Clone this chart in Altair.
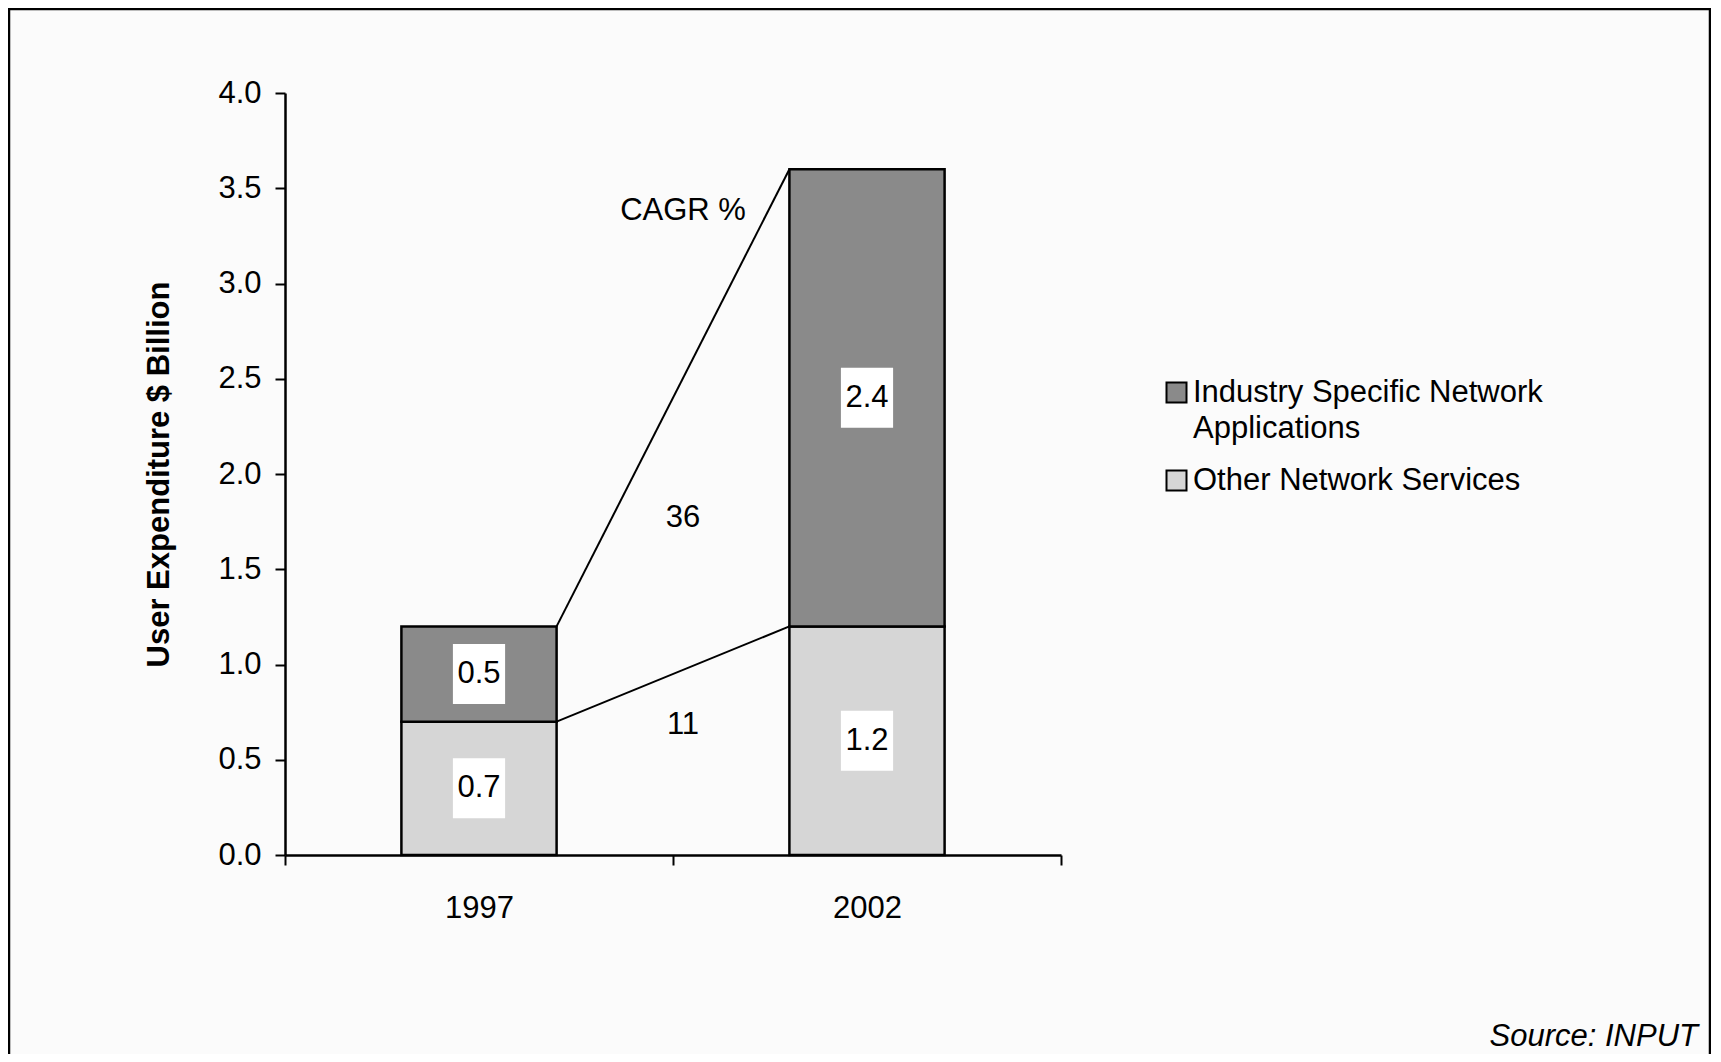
import altair as alt
import pandas as pd

# ---- data ----
years = ["1997", "2002"]
other_services = [0.7, 1.2]
industry_apps = [0.5, 2.4]
series = ["Industry Specific Network Applications", "Other Network Services"]
series_colors = ["#8a8a8a", "#d6d6d6"]
cagr_text = ["CAGR %", "36", "11"]
cagr_y = [3.38, 1.77, 0.68]
y_ticks = [0.0, 0.5, 1.0, 1.5, 2.0, 2.5, 3.0, 3.5, 4.0]
y_title = "User Expenditure $ Billion"

# ---- layout ----
W, H = 776, 762
PAD = {"left": 277, "top": 85, "right": 650, "bottom": 199}
BAR_FRAC = 0.4
STEP = W / len(years)
FONT = "Liberation Sans"
FS = 31

# ---- tables built from the arrays ----
rows = []
for i, yr in enumerate(years):
    o, ind = other_services[i], industry_apps[i]
    rows.append(dict(year=yr, series=series[1], value=o, lo=0.0, hi=o))
    rows.append(dict(year=yr, series=series[0], value=ind, lo=o, hi=o + ind))
bars = pd.DataFrame(rows)
bars["mid"] = (bars["lo"] + bars["hi"]) / 2
bars["label"] = bars["value"].map(lambda v: f"{v:.1f}")

left_edge = 0.5 - BAR_FRAC / 2
right_edge = 0.5 + BAR_FRAC / 2
lines = pd.DataFrame([
    dict(seg="total", year=years[0], off=right_edge, y=other_services[0] + industry_apps[0]),
    dict(seg="total", year=years[1], off=left_edge, y=other_services[1] + industry_apps[1]),
    dict(seg="other", year=years[0], off=right_edge, y=other_services[0]),
    dict(seg="other", year=years[1], off=left_edge, y=other_services[1]),
])

notes = pd.DataFrame({"year": [years[0]] * len(cagr_text), "text": cagr_text, "y": cagr_y})

x_scale = alt.Scale(domain=years, paddingInner=0, paddingOuter=0)
y_scale = alt.Scale(domain=[0, 4], nice=False)

x_axis = alt.Axis(
    title=None, labelAngle=0, tickBand="extent", tickSize=10, tickWidth=2,
    tickColor="black", domainColor="black", domainWidth=2.5,
    labelFontSize=FS, labelPadding=28, labelColor="black", labelFont=FONT)
y_axis = alt.Axis(
    title=y_title, values=y_ticks, format=".1f",
    tickSize=10, tickWidth=2, tickColor="black", domainColor="black",
    domainWidth=2.5, labelFontSize=FS, labelPadding=14, labelColor="black",
    labelFont=FONT, grid=False, titleFontSize=31, titleFont=FONT,
    titleFontWeight="bold", titleColor="black", titlePadding=42)


def X(field="year:N", **kw):
    return alt.X(field, scale=x_scale, axis=x_axis, title=None, **kw)


def Y(field):
    return alt.Y(field, scale=y_scale, axis=y_axis, title=y_title)


bar_layer = alt.Chart(bars).mark_bar(
    width=BAR_FRAC * STEP, stroke="black", strokeWidth=2.5
).encode(
    x=X(),
    y=Y("lo:Q"),
    y2="hi:Q",
    color=alt.Color("series:N", scale=alt.Scale(domain=series, range=series_colors),
                    legend=alt.Legend(
                        title=None, orient="none", legendX=876, legendY=284,
                        symbolType="square", symbolSize=400, symbolStrokeColor="black",
                        symbolStrokeWidth=2, labelFontSize=FS, labelFont=FONT,
                        labelColor="black", labelLimit=0, labelOffset=1, rowPadding=20,
                        labelExpr="datum.label == 'Industry Specific Network Applications' ? ['Industry Specific Network', 'Applications'] : datum.label")),
)

box_layer = alt.Chart(bars).mark_point(
    shape="M-0.87,-1L0.87,-1L0.87,1L-0.87,1Z", size=3600, filled=True,
    color="white", opacity=1, strokeWidth=0
).encode(x=X(), y=Y("mid:Q"))

label_layer = alt.Chart(bars).mark_text(fontSize=FS, font=FONT, color="black").encode(
    x=X(), y=Y("mid:Q"), text="label:N",
)

line_layer = alt.Chart(lines).mark_line(color="black", strokeWidth=2).encode(
    x=X(),
    xOffset=alt.XOffset("off:Q", scale=alt.Scale(domain=[0, 1], range=[0, STEP])),
    y=Y("y:Q"),
    detail="seg:N",
)

note_layer = alt.Chart(notes).mark_text(fontSize=FS, font=FONT, color="black", dx=10).encode(
    x=X(bandPosition=1), y=Y("y:Q"), text="text:N",
)

one = pd.DataFrame({"k": [0]})
frame_layer = alt.Chart(one).mark_rect(fillOpacity=0, stroke="black", strokeWidth=2.5).encode(
    x=alt.value(-276), x2=alt.value(1425), y=alt.value(-84), y2=alt.value(1000)
)
source_layer = alt.Chart(one).mark_text(
    text="Source: INPUT", align="right", baseline="alphabetic", fontSize=FS,
    font=FONT, fontStyle="italic", color="black"
).encode(x=alt.value(1413), y=alt.value(953))

chart = alt.layer(
    bar_layer, line_layer, box_layer, label_layer, note_layer, frame_layer, source_layer
).properties(
    width=W, height=H, padding=PAD, autosize=alt.AutoSizeParams(type="none"),
    background="#fbfbfb"
).configure(
    view=alt.ViewConfig(stroke=None),
    style={"guide-label": {"lineHeight": 36}},
)

chart.save("out.html", embed_options={"renderer": "svg", "actions": False})
